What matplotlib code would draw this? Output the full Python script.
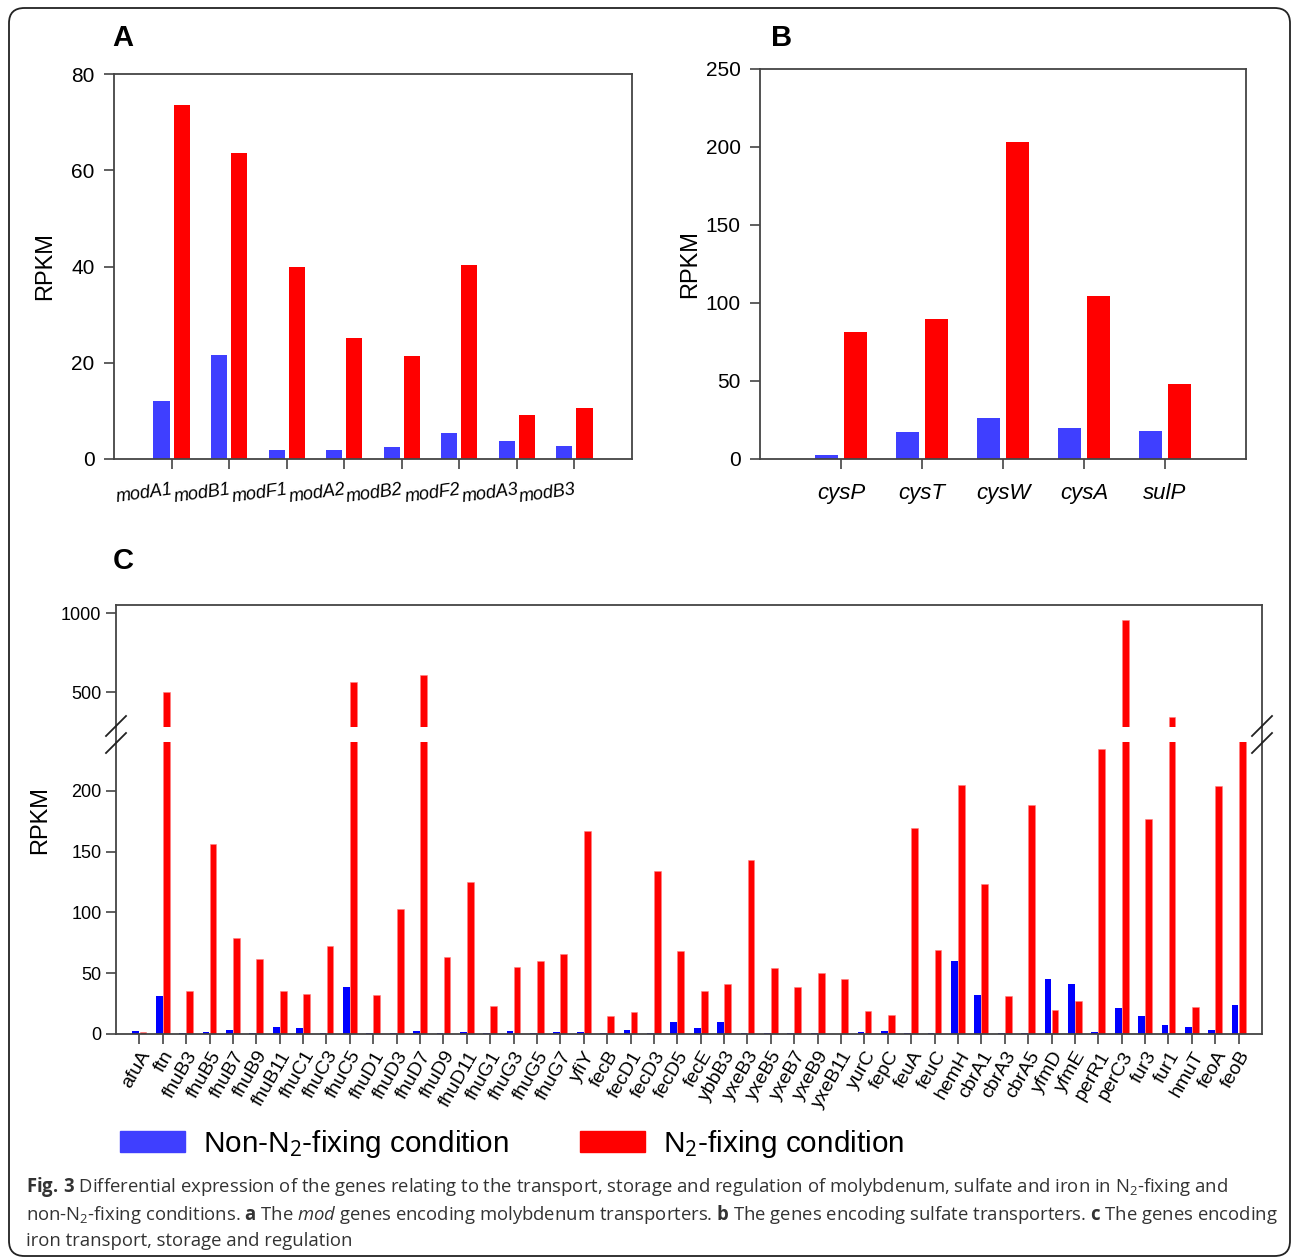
import numpy as np
import matplotlib
matplotlib.use('Agg')
import matplotlib.pyplot as plt
from matplotlib.patches import FancyBboxPatch, Patch
from matplotlib.lines import Line2D

# fonts: Arial-like for the charts, Open Sans for the caption (math text)
plt.rcParams['font.family'] = ['Liberation Sans', 'DejaVu Sans']
plt.rcParams['mathtext.fontset'] = 'custom'
plt.rcParams['mathtext.rm'] = 'Open Sans'
plt.rcParams['mathtext.it'] = 'Open Sans:italic'
plt.rcParams['mathtext.bf'] = 'Open Sans:bold'

# ---- data ----
# panel A: mod genes
genes_a = ['modA1', 'modB1', 'modF1', 'modA2', 'modB2', 'modF2', 'modA3', 'modB3']
non_fix_a = [12.1, 21.7, 1.9, 1.9, 2.4, 5.4, 3.7, 2.6]
fix_a = [73.6, 63.6, 40.0, 25.1, 21.5, 40.4, 9.1, 10.5]

# panel B: sulfate transporters
genes_b = ['cysP', 'cysT', 'cysW', 'cysA', 'sulP']
non_fix_b = [2.6, 17.3, 26.4, 20.0, 17.9]
fix_b = [81.6, 89.7, 203.5, 104.2, 48.0]

# panel C: iron transport, storage and regulation
genes_c = ['afuA', 'ftn', 'fhuB3', 'fhuB5', 'fhuB7', 'fhuB9', 'fhuB11', 'fhuC1',
           'fhuC3', 'fhuC5', 'fhuD1', 'fhuD3', 'fhuD7', 'fhuD9', 'fhuD11', 'fhuG1',
           'fhuG3', 'fhuG5', 'fhuG7', 'yfiY', 'fecB', 'fecD1', 'fecD3', 'fecD5',
           'fecE', 'ybbB3', 'yxeB3', 'yxeB5', 'yxeB7', 'yxeB9', 'yxeB11', 'yurC',
           'fepC', 'feuA', 'feuC', 'hemH', 'cbrA1', 'cbrA3', 'cbrA5', 'yfmD',
           'yfmE', 'perR1', 'perC3', 'fur3', 'fur1', 'hmuT', 'feoA', 'feoB']
non_fix_c = [2.7, 31, 1.0, 1.6, 3.3, 0.5, 5.7, 4.6,
             1.0, 39, 1.0, 1.0, 2.7, 1.0, 1.6, 0.5,
             2.7, 0.5, 2.0, 2.0, 0.5, 3.3, 0.5, 10,
             4.9, 10, 1.0, 1.0, 1.0, 0.5, 0.2, 2.0,
             2.7, 1.0, 0.5, 60, 32, 1.0, 1.0, 45,
             41, 1.6, 21, 14.6, 7.6, 5.7, 3.6, 24]
fix_c = [2, 500, 35, 156, 79, 62, 35, 33,
         72, 565, 32, 103, 610, 63, 125, 23,
         55, 60, 66, 167, 15, 18, 134, 68,
         35, 41, 143, 54, 39, 50, 45, 19,
         16, 169, 69, 205, 123, 31, 188, 20,
         27, 234, 960, 177, 345, 22, 204, 250]

blue_ab = '#3f3fff'
blue_c = '#0000ff'
red = '#ff0000'
spine_col = '#444444'

W, H = 1292, 1259
fig = plt.figure(figsize=(W / 100, H / 100), dpi=100)


def box(l, t, r, b):
    # pixel box -> figure rect
    return [l / W, 1 - b / H, (r - l) / W, (b - t) / H]


def style(ax, top=True, bottom=True):
    for s in ax.spines.values():
        s.set_color(spine_col)
        s.set_linewidth(1.3)
    ax.spines['top'].set_visible(top)
    ax.spines['bottom'].set_visible(bottom)
    ax.tick_params(direction='out', length=7, width=1.2, color=spine_col,
                   top=False, right=False)


# ---- panel A ----
axA = fig.add_axes(box(114, 74, 632, 459))
xa = np.arange(1, len(genes_a) + 1)
axA.bar(xa - 0.175, non_fix_a, 0.28, color=blue_ab)
axA.bar(xa + 0.175, fix_a, 0.28, color=red)
axA.set_xlim(0, 9)
axA.set_ylim(0, 80)
axA.set_yticks([0, 20, 40, 60, 80])
axA.set_xticks(xa)
axA.set_xticklabels(genes_a, fontstyle='italic', fontsize=13, rotation=8,
                    ha='right', rotation_mode='anchor')
style(axA)
axA.tick_params(axis='y', labelsize=15, pad=7)
axA.tick_params(axis='x', pad=9)
axA.set_ylabel('RPKM', fontsize=17)
axA.yaxis.set_label_coords(-0.112, 0.5)

# ---- panel B ----
axB = fig.add_axes(box(760, 69, 1246, 459))
xb = np.arange(1, len(genes_b) + 1)
axB.bar(xb - 0.175, non_fix_b, 0.28, color=blue_ab)
axB.bar(xb + 0.175, fix_b, 0.28, color=red)
axB.set_xlim(0, 6)
axB.set_ylim(0, 250)
axB.set_yticks([0, 50, 100, 150, 200, 250])
axB.set_xticks(xb)
axB.set_xticklabels(genes_b, fontstyle='italic', fontsize=16)
style(axB)
axB.tick_params(axis='y', labelsize=15, pad=7)
axB.tick_params(axis='x', pad=10)
axB.set_ylabel('RPKM', fontsize=17)
axB.yaxis.set_label_coords(-0.122, 0.5)

# ---- panel C (broken y axis) ----
axC_hi = fig.add_axes(box(116, 605, 1262, 727))
axC_lo = fig.add_axes(box(116, 742, 1262, 1034), sharex=axC_hi)
xc = np.arange(1, len(genes_c) + 1)
for ax in (axC_hi, axC_lo):
    ax.bar(xc - 0.15, non_fix_c, 0.29, color=blue_c)
    ax.bar(xc + 0.15, fix_c, 0.29, color=red, edgecolor='#ff8080', linewidth=0.4)
axC_hi.set_ylim(280, 1052)
axC_hi.set_yticks([500, 1000])
axC_lo.set_ylim(0, 240)
axC_lo.set_yticks([0, 50, 100, 150, 200])
axC_lo.set_xlim(0, 49)
axC_lo.set_xticks(xc)
axC_lo.set_xticklabels(genes_c, fontsize=14, rotation=60, ha='right',
                       rotation_mode='anchor')
axC_hi.tick_params(axis='x', bottom=False, labelbottom=False)
style(axC_hi, bottom=False)
style(axC_lo, top=False)
for ax in (axC_hi, axC_lo):
    ax.tick_params(axis='y', labelsize=13)
axC_lo.tick_params(axis='x', pad=3)
axC_lo.set_ylabel('RPKM', fontsize=17)
axC_lo.yaxis.set_label_coords(-0.057, 0.733)

# spine through the gap and the break marks
for xp in (116, 1262):
    fig.add_artist(Line2D([xp / W, xp / W], [1 - 742 / H, 1 - 727 / H],
                          color=spine_col, lw=1.3))
    for y0 in (736, 753):
        fig.add_artist(Line2D([(xp - 10) / W, (xp + 10) / W],
                              [1 - y0 / H, 1 - (y0 - 20) / H],
                              color='#222222', lw=1.3))

# ---- panel letters ----
fig.text(123 / W, 1 - 38 / H, 'A', fontsize=21, fontweight='bold', ha='center', va='center')
fig.text(782 / W, 1 - 38 / H, 'B', fontsize=21, fontweight='bold', ha='center', va='center')
fig.text(123 / W, 1 - 561 / H, 'C', fontsize=21, fontweight='bold', ha='center', va='center')

# ---- legend ----
handles = [Patch(color=blue_ab), Patch(color=red)]
labels = ['Non-N$_2$-fixing condition', 'N$_2$-fixing condition']
fig.legend(handles, labels, loc='center left', bbox_to_anchor=(120 / W, 1 - 1144 / H),
           ncol=2, frameon=False, fontsize=21.4, handlelength=2.19, handleheight=0.68,
           handletextpad=0.6, columnspacing=2.39, borderpad=0, borderaxespad=0)

# ---- caption ----
cap_col = '#333333'
cap = [
    r'$\mathbf{Fig.\,3}$ Differential expression of the genes relating to the transport, '
    r'storage and regulation of molybdenum, sulfate and iron in N$_2$-fixing and',
    r'non-N$_2$-fixing conditions. $\mathbf{a}$ The $\mathit{mod}$ genes encoding molybdenum '
    r'transporters. $\mathbf{b}$ The genes encoding sulfate transporters. $\mathbf{c}$ The genes encoding',
    'iron transport, storage and regulation',
]
for i, line in enumerate(cap):
    fig.text(26 / W, 1 - (1187 + 27 * i) / H, line, fontsize=13.35, family='Open Sans',
             color=cap_col, ha='left', va='center')

# ---- outer rounded frame ----
frame = FancyBboxPatch((9 / W, 1 - 1256 / H), (1290 - 9) / W, (1256 - 8) / H,
                       boxstyle='round,pad=0,rounding_size=0.012',
                       transform=fig.transFigure, fill=False, ec='#222222', lw=1.3)
fig.add_artist(frame)

fig.savefig('out.png', dpi=100)
